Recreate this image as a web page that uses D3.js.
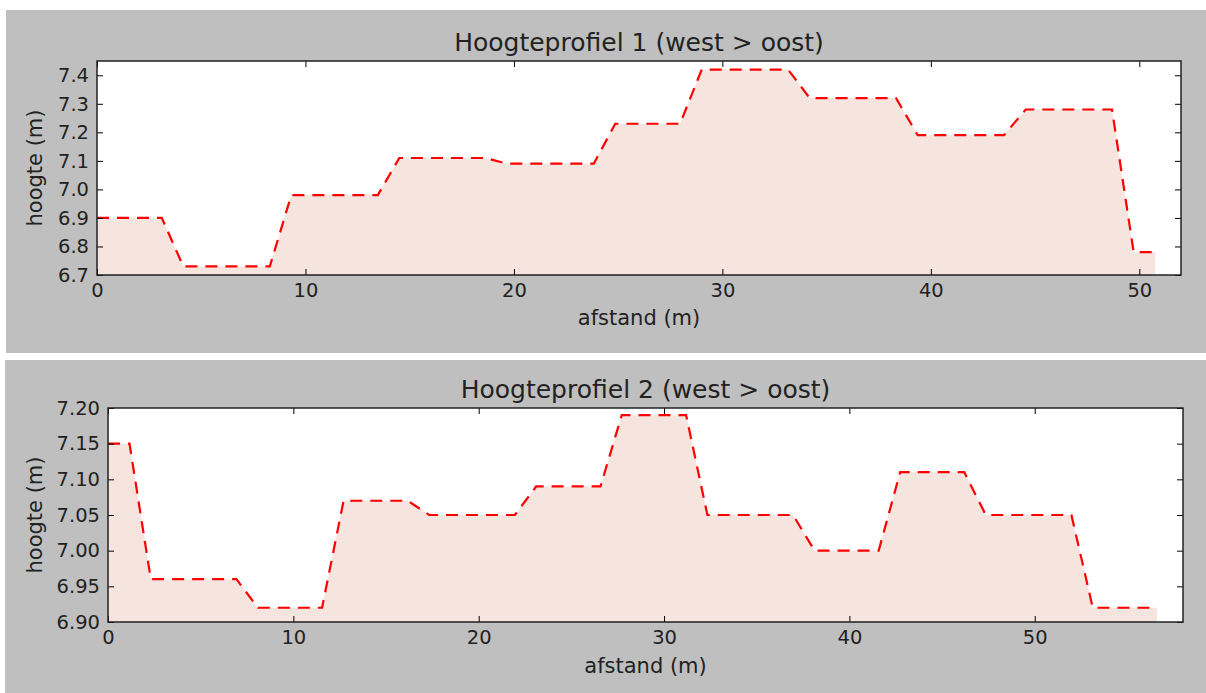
<!DOCTYPE html>
<html>
<head>
<meta charset="utf-8">
<script src="https://cdn.jsdelivr.net/npm/d3@7"></script>
<style>
  html, body { margin: 0; padding: 0; background: #fff; }
  svg { display: block; font-family: "DejaVu Sans", sans-serif; }
</style>
</head>
<body>
<div id="graph"></div>
<script>
// profile 1 (west > oost)
const dist1 = [0, 1.04, 2.07, 3.11, 4.14, 5.18, 6.22, 7.25, 8.29, 9.32, 10.36, 11.40, 12.43, 13.47, 14.50, 15.54, 16.58, 17.61, 18.65, 19.68,
  20.72, 21.76, 22.79, 23.83, 24.86, 25.90, 26.94, 27.97, 29.01, 30.04, 31.08, 32.12, 33.15, 34.19, 35.22, 36.26, 37.30, 38.33, 39.37, 40.40,
  41.44, 42.48, 43.51, 44.55, 45.58, 46.62, 47.66, 48.69, 49.73, 50.76];
const height1 = [6.90, 6.90, 6.90, 6.90, 6.73, 6.73, 6.73, 6.73, 6.73, 6.98, 6.98, 6.98, 6.98, 6.98, 7.11, 7.11, 7.11, 7.11, 7.11, 7.09,
  7.09, 7.09, 7.09, 7.09, 7.23, 7.23, 7.23, 7.23, 7.42, 7.42, 7.42, 7.42, 7.42, 7.32, 7.32, 7.32, 7.32, 7.32, 7.19, 7.19,
  7.19, 7.19, 7.19, 7.28, 7.28, 7.28, 7.28, 7.28, 6.78, 6.78];
const xTicks1 = [0, 10, 20, 30, 40, 50];
const yTicks1 = [6.7, 6.8, 6.9, 7.0, 7.1, 7.2, 7.3, 7.4];

// profile 2 (west > oost)
const dist2 = [0, 1.16, 2.31, 3.47, 4.62, 5.78, 6.93, 8.09, 9.24, 10.40, 11.55, 12.71, 13.86, 15.02, 16.17, 17.33, 18.48, 19.64, 20.79, 21.95,
  23.10, 24.26, 25.41, 26.57, 27.72, 28.88, 30.03, 31.19, 32.34, 33.50, 34.65, 35.81, 36.96, 38.12, 39.27, 40.43, 41.58, 42.74, 43.89, 45.05,
  46.20, 47.36, 48.51, 49.67, 50.82, 51.98, 53.13, 54.29, 55.44, 56.60];
const height2 = [7.15, 7.15, 6.96, 6.96, 6.96, 6.96, 6.96, 6.92, 6.92, 6.92, 6.92, 7.07, 7.07, 7.07, 7.07, 7.05, 7.05, 7.05, 7.05, 7.05,
  7.09, 7.09, 7.09, 7.09, 7.19, 7.19, 7.19, 7.19, 7.05, 7.05, 7.05, 7.05, 7.05, 7.00, 7.00, 7.00, 7.00, 7.11, 7.11, 7.11,
  7.11, 7.05, 7.05, 7.05, 7.05, 7.05, 6.92, 6.92, 6.92, 6.92];
const xTicks2 = [0, 10, 20, 30, 40, 50];
const yTicks2 = [6.90, 6.95, 7.00, 7.05, 7.10, 7.15, 7.20];

const panels = [
  { title: "Hoogteprofiel 1 (west > oost)", dist: dist1, hgt: height1, xTicks: xTicks1, yTicks: yTicks1, fmt: ".1f",
    xDomain: [0, 52], yDomain: [6.7, 7.45],
    bg: { x: 6, y: 10, w: 1200, h: 343 }, box: { left: 97, top: 61, right: 1181, bottom: 275 },
    titleY: 51, xLabelY: 325 },
  { title: "Hoogteprofiel 2 (west > oost)", dist: dist2, hgt: height2, xTicks: xTicks2, yTicks: yTicks2, fmt: ".2f",
    xDomain: [0, 58], yDomain: [6.9, 7.2],
    bg: { x: 5, y: 360, w: 1201, h: 333 }, box: { left: 108, top: 408, right: 1183, bottom: 622 },
    titleY: 398, xLabelY: 673 },
];

const svg = d3.select("#graph").append("svg").attr("width", 1206).attr("height", 693);

panels.forEach((p, i) => {
  const b = p.box;
  const x = d3.scaleLinear().domain(p.xDomain).range([b.left, b.right]);
  const y = d3.scaleLinear().domain(p.yDomain).range([b.bottom, b.top]);
  const data = p.dist.map((d, k) => ({ x: d, v: p.hgt[k] }));

  svg.append("rect")
    .attr("x", p.bg.x).attr("y", p.bg.y).attr("width", p.bg.w).attr("height", p.bg.h)
    .attr("fill", "#bfbfbf");

  svg.append("rect")
    .attr("x", b.left).attr("y", b.top).attr("width", b.right - b.left).attr("height", b.bottom - b.top)
    .attr("fill", "#fff");

  svg.append("clipPath").attr("id", "clip" + i).append("rect")
    .attr("x", b.left).attr("y", b.top).attr("width", b.right - b.left).attr("height", b.bottom - b.top);

  const plot = svg.append("g").attr("clip-path", `url(#clip${i})`);

  plot.append("path")
    .datum(data)
    .attr("fill", "#f6e4df")
    .attr("d", d3.area().x((d) => x(d.x)).y0(y(p.yDomain[0])).y1((d) => y(d.v)));

  plot.append("path")
    .datum(data)
    .attr("fill", "none")
    .attr("stroke", "#ff0000")
    .attr("stroke-width", 2.2)
    .attr("stroke-dasharray", "12,8")
    .attr("d", d3.line().x((d) => x(d.x)).y((d) => y(d.v)));

  // ticks point inward on all four sides
  const axes = [
    { ax: d3.axisBottom(x).tickValues(p.xTicks).tickFormat(d3.format("d")), tr: `translate(0,${b.bottom})` },
    { ax: d3.axisTop(x).tickValues(p.xTicks).tickFormat(""), tr: `translate(0,${b.top})` },
    { ax: d3.axisLeft(y).tickValues(p.yTicks).tickFormat(d3.format(p.fmt)), tr: `translate(${b.left},0)` },
    { ax: d3.axisRight(y).tickValues(p.yTicks).tickFormat(""), tr: `translate(${b.right},0)` },
  ];
  axes.forEach((a) => {
    const g = svg.append("g").attr("transform", a.tr)
      .call(a.ax.tickSizeInner(-6).tickSizeOuter(0).tickPadding(8));
    g.select(".domain").remove();
    g.selectAll(".tick line").attr("stroke", "#000").attr("stroke-width", 1);
    g.selectAll(".tick text").attr("fill", "#222").attr("font-size", 19.5).attr("font-family", "DejaVu Sans");
  });

  svg.append("rect")
    .attr("x", b.left).attr("y", b.top).attr("width", b.right - b.left).attr("height", b.bottom - b.top)
    .attr("fill", "none").attr("stroke", "#222").attr("stroke-width", 1.5);

  svg.append("text")
    .attr("x", (b.left + b.right) / 2).attr("y", p.titleY)
    .attr("text-anchor", "middle").attr("font-size", 25).attr("fill", "#222")
    .text(p.title);

  svg.append("text")
    .attr("x", (b.left + b.right) / 2).attr("y", p.xLabelY)
    .attr("text-anchor", "middle").attr("font-size", 21).attr("fill", "#222")
    .text("afstand (m)");

  svg.append("text")
    .attr("transform", `translate(42,${(b.top + b.bottom) / 2}) rotate(-90)`)
    .attr("text-anchor", "middle").attr("font-size", 21).attr("fill", "#222")
    .text("hoogte (m)");
});
</script>
</body>
</html>
